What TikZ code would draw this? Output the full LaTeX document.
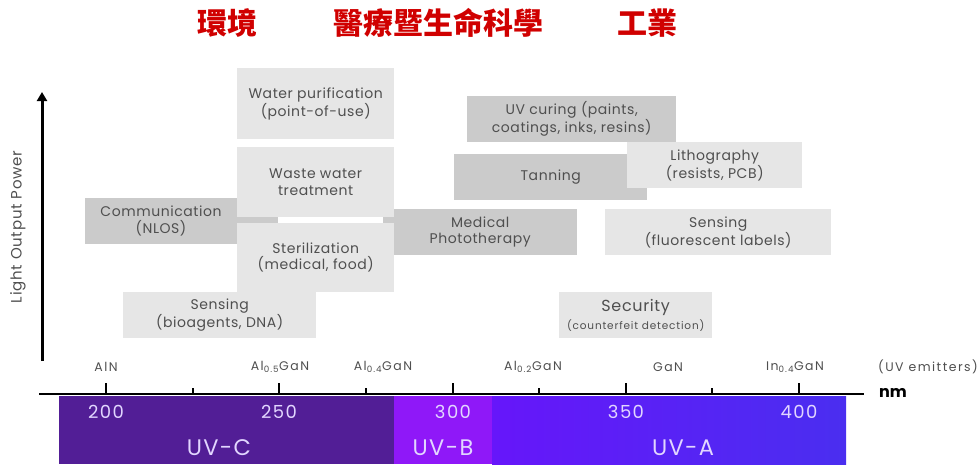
\documentclass[tikz,border=0pt]{standalone}
\usepackage{fontspec}
\setmainfont{Poppins}
\newfontfamily\cjk{Noto Sans CJK TC}
\usetikzlibrary{arrows.meta}
\definecolor{lightbox}{HTML}{E6E6E6}
\definecolor{darkbox}{HTML}{CBCBCB}
\definecolor{txtgray}{HTML}{4F4F4F}
\definecolor{uvc}{HTML}{521E96}
\definecolor{uvb}{HTML}{8F18F8}
\definecolor{uvaL}{HTML}{6616FA}
\definecolor{uvaR}{HTML}{4A2EF0}
\definecolor{bartext}{HTML}{E2D6FF}
\definecolor{titlered}{HTML}{D00000}
\newcommand\spc[1]{\addfontfeature{LetterSpace=#1}}
\begin{document}
\begin{tikzpicture}[x=1pt,y=-1pt,
  boxfont/.style={font=\fontsize{14}{16.5}\selectfont\spc{4}},
  lbox/.style={fill=lightbox, inner sep=0pt, align=center, text=txtgray,
    boxfont, anchor=north west},
  dbox/.style={lbox, fill=darkbox},
  plain/.style={inner sep=0pt, align=center, text=txtgray, boxfont},
  emit/.style={inner sep=0pt, text=txtgray, font=\fontsize{12.5}{14}\selectfont\spc{12}},
  bar/.style={inner sep=0pt, anchor=north west, minimum height=68pt},
  barnum/.style={inner sep=0pt, text=bartext, font=\fontsize{18}{20}\selectfont\spc{8}},
  barlab/.style={inner sep=0pt, text=bartext, font=\fontsize{22.5}{26}\selectfont\spc{6}},
  title/.style={inner sep=0pt, text=titlered, font=\cjk\bfseries\fontsize{30}{32}\selectfont},
  axisline/.style={draw=black, line width=2.2pt},
  tick/.style={draw=black, line width=1.6pt}
]
\useasboundingbox (0,0) rectangle (980,464);

% titles
\node[title] (t1) at (227,23) {環境};
\node[title] (t2) at (438,23) {醫療暨生命科學};
\node[title] (t3) at (647,23) {工業};

% background boxes
\node[dbox, minimum width=193pt, minimum height=46pt] (comm) at (85,198) {};
\node[plain] (commtxt) at (161,221) {Communication\\(NLOS)};
\node[dbox, minimum width=194pt, minimum height=46pt] (medical) at (383,209) {Medical\\Phototherapy};

% left boxes
\node[lbox, minimum width=157pt, minimum height=71pt] (water) at (237,68) {Water purification\\(point-of-use)};
\node[lbox, minimum width=157pt, minimum height=70pt] (waste) at (237,147) {Waste water\\treatment};
\node[lbox, minimum width=157pt, minimum height=69pt] (steril) at (237,223) {Sterilization\\(medical, food)};
\node[lbox, minimum width=193pt, minimum height=46pt] (sensbio) at (123,292) {Sensing\\(bioagents, DNA)};

% right boxes
\node[dbox, minimum width=209pt, minimum height=46pt] (curing) at (467,96) {UV curing (paints,\\coatings, inks, resins)};
\node[dbox, minimum width=193pt, minimum height=46pt] (tanning) at (454,154) {Tanning};
\node[lbox, minimum width=175pt, minimum height=46pt] (litho) at (627,142) {Lithography\\(resists, PCB)};
\node[lbox, minimum width=226pt, minimum height=46pt] (sensfl) at (605,209) {Sensing\\(fluorescent labels)};
\node[lbox, minimum width=153pt, minimum height=46pt] (security) at (559,292)
  {\fontsize{16}{18}\selectfont Security\\[1pt]{\fontsize{10.5}{12}\selectfont\spc{8}(counterfeit detection)}};

% vertical axis
\coordinate (ybot) at (42,361);
\coordinate (ytop) at (42,92);
\draw[line width=3pt, -{Triangle[length=9pt,width=10pt]}] (ybot) -- (ytop);
\node[plain, rotate=90, font=\fontsize{15}{18}\selectfont\spc{5}] (ylab) at (18,227) {Light Output Power};

% horizontal axis
\coordinate (xl) at (39,394);
\coordinate (xr) at (864,394);
\draw[axisline] (xl) -- (xr);
\foreach \x in {106,279,453,626,799} \draw[tick] (\x,394) -- (\x,382.5);
\foreach \x in {193,366,539,712} \draw[tick] (\x,394) -- (\x,388);
\node[inner sep=0pt, font=\bfseries\fontsize{16}{18}\selectfont] (nm) at (893,393) {nm};

% emitters
\node[emit] (e1) at (106,367) {AlN};
\node[emit] (e2) at (280,367) {Al\textsubscript{0.5}GaN};
\node[emit] (e3) at (383,367) {Al\textsubscript{0.4}GaN};
\node[emit] (e4) at (533,367) {Al\textsubscript{0.2}GaN};
\node[emit] (e5) at (668,367) {GaN};
\node[emit] (e6) at (795,367) {In\textsubscript{0.4}GaN};
\node[emit] (e7) at (928,367) {(UV emitters)};

% colour bar
\node[bar, fill=uvc, minimum width=335pt] (uvcbar) at (59,396) {};
\node[bar, fill=uvb, minimum width=98pt] (uvbbar) at (394,396) {};
\node[bar, left color=uvaL, right color=uvaR, minimum width=354pt] (uvabar) at (492,396) {};

\node[barnum] (n200) at (106,412) {200};
\node[barnum] (n250) at (279,412) {250};
\node[barnum] (n300) at (453,412) {300};
\node[barnum] (n350) at (626,412) {350};
\node[barnum] (n400) at (799,412) {400};

\node[barlab] (lc) at (219,448) {UV-C};
\node[barlab] (lb) at (443,448) {UV-B};
\node[barlab] (la) at (683,448) {UV-A};
\end{tikzpicture}
\end{document}
